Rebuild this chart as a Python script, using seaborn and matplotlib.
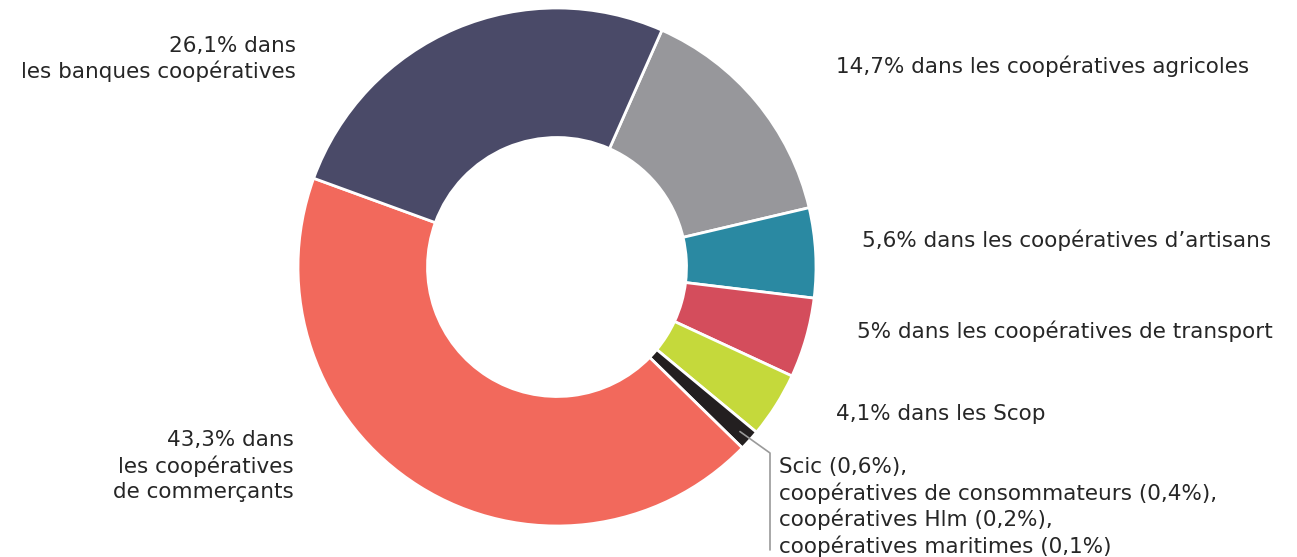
import matplotlib
matplotlib.use("Agg")
import matplotlib.pyplot as plt
import seaborn as sns
import numpy as np

sns.set_theme(style="white")
plt.rcParams['font.family'] = ['DejaVu Sans']

categories = ["coopératives agricoles", "coopératives d’artisans", "coopératives de transport",
              "Scop", "Scic, consommateurs, Hlm, maritimes", "coopératives de commerçants",
              "banques coopératives"]
values = [14.7, 5.6, 5.0, 4.1, 1.3, 43.3, 26.1]
colors = ["#97979b", "#2a89a2", "#d44d5c", "#c5d93b", "#231f20", "#f2695c", "#4a4a68"]

labels_right = [
    ("14,7% dans les coopératives agricoles", 836, 66),
    ("5,6% dans les coopératives d’artisans", 862, 240),
    ("5% dans les coopératives de transport", 857, 331),
    ("4,1% dans les Scop", 836, 414),
    ("Scic (0,6%),\ncoopératives de consommateurs (0,4%),\ncoopératives Hlm (0,2%),\ncoopératives maritimes (0,1%)", 779, 507),
]
labels_left = [
    ("26,1% dans\nles banques coopératives", 296, 59),
    ("43,3% dans\nles coopératives\nde commerçants", 294, 466),
]

W, H = 1297, 557
fig = plt.figure(figsize=(W / 100, H / 100), dpi=100)
cx, cy, r = 557, 267, 259
ax = fig.add_axes([(cx - r) / W, (H - cy - r) / H, 2 * r / W, 2 * r / H])
wedges, _ = ax.pie(values, colors=colors, startangle=66.1, counterclock=False, radius=1,
                   wedgeprops=dict(width=0.5, edgecolor="white", linewidth=2))
ax.set_xlim(-1, 1)
ax.set_ylim(-1, 1)
ax.set_aspect("equal")
ax.axis("off")

txt = "#262626"
fs = 15.5
ls = 1.3
for t, x, y in labels_right:
    fig.text(x / W, 1 - y / H, t, ha="left", va="center", fontsize=fs, color=txt, linespacing=ls)
for t, x, y in labels_left:
    fig.text(x / W, 1 - y / H, t, ha="right", va="center", fontsize=fs, color=txt, linespacing=ls)

# leader line for the small black wedge
w = wedges[4]
mid = np.deg2rad((w.theta1 + w.theta2) / 2)
x0, y0 = 0.95 * np.cos(mid), 0.95 * np.sin(mid)
x1, y1 = (770 - cx) / r, -(453 - cy) / r
x2, y2 = x1, -(550 - cy) / r
ax.plot([x0, x1, x2], [y0, y1, y2], color="#9a9a9a", lw=1.2, clip_on=False)

fig.savefig("out.png", dpi=100)
